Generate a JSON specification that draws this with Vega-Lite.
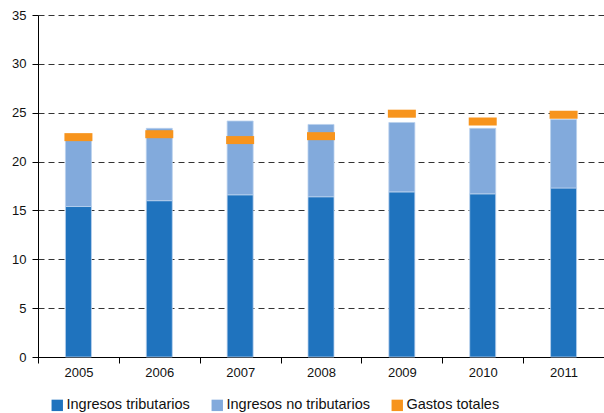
{
  "$schema": "https://vega.github.io/schema/vega-lite/v6.json",
  "width": 566,
  "height": 342,
  "autosize": {"type": "none"},
  "padding": {"left": 38, "top": 15, "right": 0, "bottom": 56},
  "background": "white",
  "config": {
    "view": {"stroke": null},
    "font": "Liberation Sans",
    "axis": {"labelFont": "Liberation Sans", "labelColor": "#111", "labelFontSize": 13}
  },
  "datasets": {
    "ingresos": [
      {"year": "2005", "serie": "Ingresos tributarios", "value": 15.4},
      {"year": "2005", "serie": "Ingresos no tributarios", "value": 6.8},
      {"year": "2006", "serie": "Ingresos tributarios", "value": 16.0},
      {"year": "2006", "serie": "Ingresos no tributarios", "value": 7.4},
      {"year": "2007", "serie": "Ingresos tributarios", "value": 16.6},
      {"year": "2007", "serie": "Ingresos no tributarios", "value": 7.55},
      {"year": "2008", "serie": "Ingresos tributarios", "value": 16.4},
      {"year": "2008", "serie": "Ingresos no tributarios", "value": 7.4},
      {"year": "2009", "serie": "Ingresos tributarios", "value": 16.9},
      {"year": "2009", "serie": "Ingresos no tributarios", "value": 7.1},
      {"year": "2010", "serie": "Ingresos tributarios", "value": 16.7},
      {"year": "2010", "serie": "Ingresos no tributarios", "value": 6.7},
      {"year": "2011", "serie": "Ingresos tributarios", "value": 17.3},
      {"year": "2011", "serie": "Ingresos no tributarios", "value": 7.0}
    ],
    "gastos": [
      {"year": "2005", "serie": "Gastos totales", "value": 22.5},
      {"year": "2006", "serie": "Gastos totales", "value": 22.8},
      {"year": "2007", "serie": "Gastos totales", "value": 22.2},
      {"year": "2008", "serie": "Gastos totales", "value": 22.6},
      {"year": "2009", "serie": "Gastos totales", "value": 24.9},
      {"year": "2010", "serie": "Gastos totales", "value": 24.1},
      {"year": "2011", "serie": "Gastos totales", "value": 24.8}
    ]
  },
  "encoding": {
    "x": {
      "field": "year", "type": "nominal",
      "scale": {"paddingInner": 0, "paddingOuter": 0},
      "axis": {
        "title": null, "labelAngle": 0, "tickBand": "extent",
        "domainColor": "#000", "tickColor": "#000", "tickSize": 6, "labelPadding": 3
      }
    }
  },
  "layer": [
    {
      "data": {"name": "ingresos"},
      "mark": {"type": "bar", "width": 26, "stroke": "#b9d1ee", "strokeWidth": 0.8},
      "encoding": {
        "y": {
          "field": "value", "type": "quantitative", "stack": "zero",
          "scale": {"domain": [0, 35], "nice": false},
          "axis": {
            "title": null, "values": [0, 5, 10, 15, 20, 25, 30, 35], "labelOverlap": false,
            "grid": true, "gridColor": "#333", "gridDash": [6, 4], "gridWidth": 1,
            "domainColor": "#000", "tickColor": "#000", "tickSize": 6, "labelPadding": 6
          }
        },
        "color": {
          "field": "serie", "type": "nominal",
          "scale": {
            "domain": ["Ingresos tributarios", "Ingresos no tributarios", "Gastos totales"],
            "range": ["#1f73be", "#82aadc", "#f7941d"]
          },
          "legend": {
            "title": null, "orient": "none", "direction": "horizontal",
            "legendX": 12, "legendY": 383,
            "symbolType": "square", "symbolSize": 130, "symbolOpacity": 1,
            "labelFontSize": 14.5, "labelColor": "#111", "labelFont": "Liberation Sans",
            "labelOffset": 2, "columnPadding": 20, "labelLimit": 300, "symbolStrokeWidth": 0
          }
        },
        "order": {"field": "serie", "sort": "descending"}
      }
    },
    {
      "data": {"name": "gastos"},
      "mark": {"type": "tick", "thickness": 8, "size": 28, "opacity": 1},
      "encoding": {
        "y": {
          "field": "value", "type": "quantitative",
          "axis": {
            "title": null, "values": [0, 5, 10, 15, 20, 25, 30, 35], "labelOverlap": false,
            "grid": true, "gridColor": "#333", "gridDash": [6, 4], "gridWidth": 1,
            "domainColor": "#000", "tickColor": "#000", "tickSize": 6, "labelPadding": 6
          }
        },
        "color": {"field": "serie", "type": "nominal"}
      }
    }
  ]
}
